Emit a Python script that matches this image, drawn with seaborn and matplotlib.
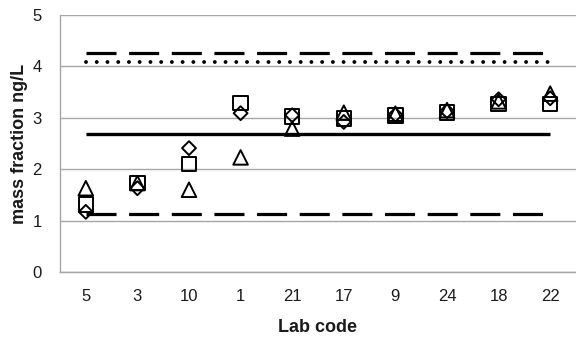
import numpy as np
import pandas as pd
import matplotlib
matplotlib.use("Agg")
import matplotlib.pyplot as plt
import seaborn as sns

labs = ["5", "3", "10", "1", "21", "17", "9", "24", "18", "22"]
triangle = [1.63, 1.73, 1.60, 2.23, 2.79, 3.10, 3.08, 3.15, 3.32, 3.47]
square = [1.31, 1.73, 2.10, 3.29, 3.03, 2.99, 3.04, 3.10, 3.27, 3.27]
diamond = [1.17, 1.63, 2.41, 3.09, 3.05, 2.92, 3.06, 3.13, 3.36, 3.38]

ref_value = 2.69
upper_dashed = 4.27
upper_dotted = 4.08
lower_dashed = 1.13

sns.set_theme(style="white")
plt.rcParams['font.family'] = ['Liberation Sans', 'DejaVu Sans']

fig = plt.figure(figsize=(5.76, 3.4), dpi=100)
ax = fig.add_axes([60/576, 1-272/340, 516/576, 257/340])

pos = np.arange(len(labs))
grid_c = "#a6a6a6"
for yv in range(0, 6):
    ax.axhline(yv, color=grid_c, lw=1.0, zorder=0)

n = len(labs)
dash = (0, (9.4, 3.95))
ax.hlines(upper_dashed, 0, n-1, colors="black", lw=2.3, linestyles=dash, zorder=2)
l = ax.hlines(upper_dotted, 0, n-1, colors="black", lw=2.8, linestyles=(0, (0.01, 2.75)), zorder=2)
l.set_capstyle("round")
ax.hlines(ref_value, 0, n-1, colors="black", lw=2.4, zorder=2)
ax.hlines(lower_dashed, 0, n-1, colors="black", lw=2.3, linestyles=dash, zorder=2)

df = pd.DataFrame({"pos": pos, "tri": triangle, "sq": square, "dia": diamond})
sns.scatterplot(data=df, x="pos", y="dia", marker="D", s=50, facecolors="none",
                edgecolor="black", linewidth=1.4, ax=ax, zorder=3)
sns.scatterplot(data=df, x="pos", y="sq", marker="s", s=110, facecolors="none",
                edgecolor="black", linewidth=1.4, ax=ax, zorder=3)
sns.scatterplot(data=df, x="pos", y="tri", marker="^", s=110, facecolors="none",
                edgecolor="black", linewidth=1.4, ax=ax, zorder=3)

ax.set_xlim(-0.5, n-0.5)
ax.set_ylim(0, 5)
ax.set_xticks(pos)
ax.set_xticklabels(labs)
ax.set_xticks(np.arange(-0.5, n, 1.0), minor=True)
ax.tick_params(axis="x", which="major", length=0, labelsize=12, pad=12, labelcolor="#1a1a1a")
ax.tick_params(axis="x", which="minor", length=5, width=1, color=grid_c, direction="out")
ax.set_yticks(range(0, 6))
ax.tick_params(axis="y", length=5, width=1, color=grid_c, direction="out", labelsize=12, pad=8,
               labelcolor="#1a1a1a")

for s in ["top", "right"]:
    ax.spines[s].set_visible(False)
for s in ["left", "bottom"]:
    ax.spines[s].set_color(grid_c)
    ax.spines[s].set_linewidth(1.0)

ax.set_xlabel("Lab code", fontsize=13, fontweight="bold", labelpad=11, color="#1a1a1a")
ax.set_ylabel("mass fraction ng/L", fontsize=13, fontweight="bold", labelpad=3, color="#1a1a1a")

fig.savefig("out.png", dpi=100)
